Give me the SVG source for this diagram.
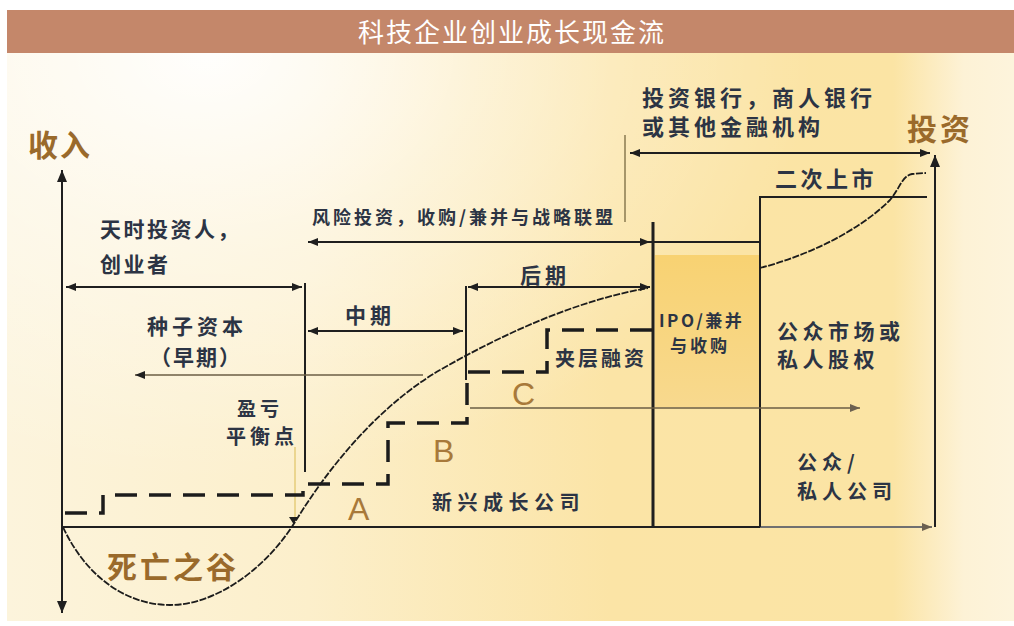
<svg xmlns="http://www.w3.org/2000/svg" width="1014" height="626" viewBox="0 0 1014 626">
<style>
.t{font-family:"Noto Sans CJK SC","Noto Sans",sans-serif;font-weight:bold;fill:#2c3444}
.br{font-family:"Noto Sans CJK SC","Noto Sans",sans-serif;font-weight:bold;fill:#9a6a2b}
.lt{font-family:"Liberation Sans",Arial,sans-serif;fill:#a8793a}
.ln{stroke:#1f1f1f;stroke-width:2;fill:none}
.thin{stroke:#6b5e45;stroke-width:1.3;fill:none}
.dash{stroke:#1c1c1c;stroke-width:3.5;fill:none;stroke-dasharray:22 12}
.curve{stroke:#1c1c1c;stroke-width:1.8;fill:none;stroke-dasharray:7 1.5}
</style>
<defs>
<linearGradient id="bg" x1="0" y1="0" x2="1" y2="0">
<stop offset="0" stop-color="#fcf4dc"/>
<stop offset="0.3" stop-color="#fcefcb"/>
<stop offset="0.6" stop-color="#fbe4a6"/>
<stop offset="0.88" stop-color="#fbe4a4"/>
<stop offset="0.95" stop-color="#fdf2d6"/>
<stop offset="1" stop-color="#fdf4dc"/>
</linearGradient>
<radialGradient id="wt" cx="0.2" cy="0" r="0.75" gradientTransform="translate(0.2 0) scale(0.8 1) translate(-0.2 0)">
<stop offset="0" stop-color="#ffffff" stop-opacity="0.95"/>
<stop offset="0.45" stop-color="#ffffff" stop-opacity="0.45"/>
<stop offset="1" stop-color="#ffffff" stop-opacity="0"/>
</radialGradient>
<linearGradient id="ipo" x1="0" y1="0" x2="0" y2="1">
<stop offset="0" stop-color="#f8d272"/>
<stop offset="1" stop-color="#f8d98e"/>
</linearGradient>
<marker id="ae" viewBox="0 0 10 8" refX="10" refY="4" markerWidth="10" markerHeight="8" orient="auto-start-reverse" markerUnits="userSpaceOnUse"><path d="M0,0 L10,4 L0,8 Z" fill="#1f1f1f"/></marker>
<marker id="ag" viewBox="0 0 10 8" refX="10" refY="4" markerWidth="11" markerHeight="8" orient="auto-start-reverse" markerUnits="userSpaceOnUse"><path d="M0,0 L10,4 L0,8 Z" fill="#6b6050"/></marker>
<marker id="ax" viewBox="0 0 12 10" refX="12" refY="5" markerWidth="12" markerHeight="10" orient="auto-start-reverse" markerUnits="userSpaceOnUse"><path d="M0,0 L12,5 L0,10 Z" fill="#1f1f1f"/></marker>
</defs>

<g id="background">
<rect x="0" y="0" width="1014" height="626" fill="#ffffff"/>
<rect x="7" y="53" width="1007" height="568" fill="url(#bg)"/>
<rect x="7" y="53" width="1007" height="568" fill="url(#wt)"/>
<rect x="655" y="255" width="105" height="152" fill="url(#ipo)"/>
</g>

<g id="title">
<rect x="7" y="10" width="1007" height="43" fill="#c4876a"/>
<text x="512" y="42" text-anchor="middle" style="font-family:'Noto Sans CJK SC','Noto Sans',sans-serif;font-size:26px;fill:#ffffff;letter-spacing:2px">科技企业创业成长现金流</text>
</g>

<g id="connectors">
<line class="ln" x1="62" y1="527" x2="62" y2="170" marker-end="url(#ax)"/>
<line class="ln" x1="62" y1="527" x2="62" y2="613" marker-end="url(#ax)"/>
<line class="ln" x1="62" y1="527" x2="760" y2="527"/>
<line x1="760" y1="527" x2="932" y2="527" stroke="#707070" stroke-width="2" marker-end="url(#ag)"/>
<line class="ln" x1="935" y1="527" x2="935" y2="155" marker-end="url(#ax)"/>
<line class="ln" x1="630" y1="153" x2="930" y2="153" marker-start="url(#ae)" marker-end="url(#ae)"/>
<line x1="625" y1="135" x2="625" y2="222" stroke="#8a7a50" stroke-width="1.5"/>
<line class="ln" x1="308" y1="242" x2="650" y2="242" marker-start="url(#ae)" marker-end="url(#ae)"/>
<line class="ln" x1="650" y1="242" x2="760" y2="242"/>
<path class="ln" d="M760,527 V197 H927" stroke-width="2.5"/>
<line x1="653" y1="222" x2="653" y2="527" stroke="#1f1f1f" stroke-width="3"/>
<line class="ln" x1="66" y1="287" x2="302" y2="287" marker-start="url(#ae)" marker-end="url(#ae)"/>
<line class="ln" x1="305" y1="283" x2="305" y2="472" stroke-width="1.5"/>
<line class="ln" x1="308" y1="331" x2="463" y2="331" marker-start="url(#ae)" marker-end="url(#ae)"/>
<line class="ln" x1="468" y1="287" x2="650" y2="287" marker-start="url(#ae)" marker-end="url(#ae)"/>
<line class="ln" x1="466" y1="286" x2="466" y2="380" stroke-width="1.5"/>
<line class="thin" x1="423" y1="375" x2="135" y2="375" marker-end="url(#ae)"/>
<line class="thin" x1="470" y1="408" x2="860" y2="408" marker-end="url(#ag)"/>
<line x1="295" y1="447" x2="295" y2="520" stroke="#e6cc7a" stroke-width="1.5"/>
<path d="M289,517 L298,517 L293.5,524 Z" fill="#1f1f1f"/>
<path class="dash" d="M65,513 H103 V495 H303 V484 H388 V423 H467 V372 H547 V330 H655"/>
<path class="curve" d="M63,527 C85,575 125,605 170,605 C215,605 265,570 295,522 C330,465 380,405 440,370 C510,330 580,300 648,288"/>
<path class="curve" d="M760,268 C810,255 860,230 890,200 C900,188 902,176 912,174 L926,173"/>
</g>

<g id="axis-labels">
<text class="br" x="28" y="156" style="font-size:30px;letter-spacing:2px">收入</text>
<text class="br" x="907" y="140" style="font-size:30px;letter-spacing:3px">投资</text>
<text class="br" x="107" y="578" style="font-size:30px;letter-spacing:3px">死亡之谷</text>
</g>

<g id="investors-top">
<text class="t" x="642" y="106" style="font-size:22px;letter-spacing:4px">投资银行，商人银行</text>
<text class="t" x="642" y="135" style="font-size:22px;letter-spacing:4px">或其他金融机构</text>
</g>

<g id="angel">
<text class="t" x="100" y="237" style="font-size:21px;letter-spacing:2.5px">天时投资人，</text>
<text class="t" x="100" y="272" style="font-size:21px;letter-spacing:2.5px">创业者</text>
</g>

<g id="vc">
<text class="t" x="312" y="224" style="font-size:18px;letter-spacing:3px">风险投资，收购/兼并与战略联盟</text>
</g>

<g id="stages">
<text class="t" x="345" y="323" style="font-size:21px;letter-spacing:4px">中期</text>
<text class="t" x="520" y="283" style="font-size:21px;letter-spacing:4px">后期</text>
<text class="t" x="147" y="334" style="font-size:21px;letter-spacing:4px">种子资本</text>
<text class="t" x="150" y="365" style="font-size:21px;letter-spacing:2px">（早期）</text>
</g>

<g id="breakeven">
<text class="t" x="260" y="416" text-anchor="middle" style="font-size:19px;letter-spacing:4px">盈亏</text>
<text class="t" x="262" y="444" text-anchor="middle" style="font-size:20px;letter-spacing:4px">平衡点</text>
</g>

<g id="rounds">
<text class="lt" x="348" y="520" style="font-size:32px">A</text>
<text class="lt" x="433" y="462" style="font-size:32px">B</text>
<text class="lt" x="512" y="405" style="font-size:32px">C</text>
</g>

<g id="emerging">
<text class="t" x="432" y="510" style="font-size:20px;letter-spacing:5.5px">新兴成长公司</text>
</g>

<g id="mezzanine">
<text class="t" x="555" y="366" style="font-size:20px;letter-spacing:3px">夹层融资</text>
</g>

<g id="ipo-box">
<text class="t" x="659" y="327" style="font-size:17px;letter-spacing:2.5px">IPO/兼并</text>
<text class="t" x="670" y="352" style="font-size:17px;letter-spacing:3px">与收购</text>
</g>

<g id="secondary">
<text class="t" x="775" y="187" style="font-size:22px;letter-spacing:3.5px">二次上市</text>
</g>

<g id="public-market">
<text class="t" x="777" y="339" style="font-size:21px;letter-spacing:4.5px">公众市场或</text>
<text class="t" x="777" y="367" style="font-size:21px;letter-spacing:4.5px">私人股权</text>
</g>

<g id="public-company">
<text class="t" x="797" y="470" style="font-size:20px;letter-spacing:5px">公众/</text>
<text class="t" x="797" y="499" style="font-size:20px;letter-spacing:5px">私人公司</text>
</g>
</svg>
